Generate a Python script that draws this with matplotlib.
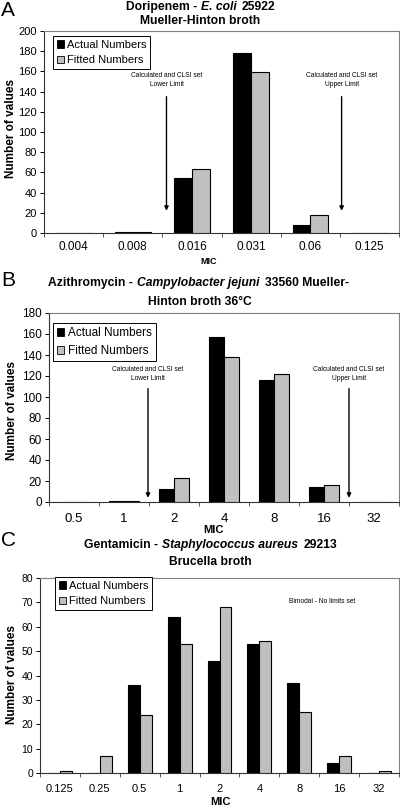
import numpy as np
import matplotlib
matplotlib.use("Agg")
import matplotlib.pyplot as plt
import matplotlib.transforms as mtransforms
from matplotlib.patches import Patch

plt.rcParams['font.family'] = ['Liberation Sans', 'DejaVu Sans']

# ---------------- data ----------------
mic_a = ['0.004', '0.008', '0.016', '0.031', '0.06', '0.125']
actual_a = [0, 1, 54, 178, 8, 0]
fitted_a = [0, 1, 63, 159, 18, 0]

mic_b = ['0.5', '1', '2', '4', '8', '16', '32']
actual_b = [0, 1, 12, 157, 116, 14, 0]
fitted_b = [0, 1, 23, 138, 122, 16, 0]

mic_c = ['0.125', '0.25', '0.5', '1', '2', '4', '8', '16', '32']
actual_c = [0, 0, 36, 64, 46, 53, 37, 4, 0]
fitted_c = [1, 7, 24, 53, 68, 54, 25, 7, 1]

W, H = 400, 807
DPI = 100
fig = plt.figure(figsize=(W / DPI, H / DPI), dpi=DPI)
PX = mtransforms.IdentityTransform()


def ax_px(left, top, right, bottom):
    return fig.add_axes([left / W, (H - bottom) / H, (right - left) / W, (bottom - top) / H])


def mixed_line(xc, y, pieces, size):
    r = fig.canvas.get_renderer()
    items = []
    for s, st in pieces:
        t = fig.text(0, H - y, s, fontsize=size, fontweight='bold', fontstyle=st,
                     ha='left', va='center', transform=PX)
        w = t.get_window_extent(r).width
        items.append((t, w, st))
    sp = 0.33 * size * DPI / 72
    total = sum(w for _, w, _ in items) + sp * (len(items) - 1)
    x = xc - total / 2
    for t, w, st in items:
        t.set_x(x)
        x += w + sp + (1.5 if st == 'italic' else 0)


def setup(ax, cats, actual, fitted, ymax, ystep, xfs, yfs, xpad):
    n = len(cats)
    x = np.arange(n)
    ax.bar(x - 0.15, actual, 0.3, color='black', edgecolor='black', linewidth=0.8, zorder=3)
    ax.bar(x + 0.15, fitted, 0.3, color='#c0c0c0', edgecolor='black', linewidth=0.8, zorder=3)
    ax.set_xlim(-0.5, n - 0.5)
    ax.set_ylim(0, ymax)
    ax.set_yticks(np.arange(0, ymax + 1, ystep))
    ax.tick_params(axis='y', labelsize=yfs, length=3, width=0.7, pad=2)
    ax.set_xticks(np.arange(n + 1) - 0.5)
    ax.set_xticklabels([])
    ax.tick_params(axis='x', which='major', length=3, width=0.7, color='#555555')
    ax.set_xticks(x, cats, minor=True)
    ax.tick_params(axis='x', which='minor', length=0, labelsize=xfs, pad=xpad)
    for s in ['left', 'bottom']:
        ax.spines[s].set_color('#333333')
        ax.spines[s].set_linewidth(0.8)
    for s in ['top', 'right']:
        ax.spines[s].set_color('#808080')
        ax.spines[s].set_linewidth(0.8)
    ax.set_facecolor('white')


def legend(ax, anchor, fs):
    handles = [Patch(facecolor='black', edgecolor='black', linewidth=0.6),
               Patch(facecolor='#c0c0c0', edgecolor='black', linewidth=0.6)]
    lg = ax.legend(handles, ['Actual Numbers', 'Fitted Numbers'], loc='upper left',
                   bbox_to_anchor=anchor, bbox_transform=PX, fontsize=fs,
                   handlelength=0.6, handleheight=0.6, handletextpad=0.3,
                   labelspacing=0.5, borderpad=0.35, fancybox=False, framealpha=1,
                   borderaxespad=0)
    lg.get_frame().set_edgecolor('black')
    lg.get_frame().set_linewidth(0.7)
    lg.set_zorder(5)


def limit(ax, x, top, bottom, ytext, label):
    ax.annotate('', xy=(x, bottom), xytext=(x, top),
                arrowprops=dict(arrowstyle='-|>', lw=1.0, color='black', mutation_scale=6,
                                shrinkA=0, shrinkB=0))
    ax.text(x, ytext, 'Calculated and CLSI set\n' + label, ha='center', va='center',
            fontsize=4.8, linespacing=1.35)


# ---------------- Panel A ----------------
axA = ax_px(44, 31, 399, 233)
setup(axA, mic_a, actual_a, fitted_a, 200, 20, 8.5, 8.0, 6)
legend(axA, (53, H - 36), 8.0)
limit(axA, 1.57, 135, 22, 151.5, 'Lower Limit')
limit(axA, 4.53, 135, 22, 151.5, 'Upper Limit')
fig.text(1, H - 1, 'A', fontsize=15, ha='left', va='top', transform=PX)
mixed_line(200, 7, [('Doripenem -', 'normal'), ('E. coli', 'italic'), ('25922', 'normal')], 8.7)
mixed_line(200, 21, [('Mueller-Hinton broth', 'normal')], 8.7)
fig.text(11, H - 129, 'Number of values', rotation=90, fontsize=8.5, fontweight='bold',
         ha='center', va='center', transform=PX)
fig.text(209, H - 261, 'MIC', fontsize=6.5, fontweight='bold', ha='center', va='center', transform=PX)

# ---------------- Panel B ----------------
axB = ax_px(49, 313, 399, 502)
setup(axB, mic_b, actual_b, fitted_b, 180, 20, 9.5, 8.5, 8)
legend(axB, (53, H - 323), 8.5)
limit(axB, 1.48, 108, 4, 122, 'Lower Limit')
limit(axB, 5.5, 108, 4, 122, 'Upper Limit')
fig.text(1, H - 271, 'B', fontsize=15, ha='left', va='top', transform=PX)
mixed_line(198, 283, [('Azithromycin -', 'normal'), ('Campylobacter jejuni', 'italic'),
                      ('33560 Mueller-', 'normal')], 8.7)
mixed_line(200, 302, [('Hinton broth 36°C', 'normal')], 8.7)
fig.text(12, H - 410, 'Number of values', rotation=90, fontsize=8.5, fontweight='bold',
         ha='center', va='center', transform=PX)
fig.text(213, H - 530, 'MIC', fontsize=8, fontweight='bold', ha='center', va='center', transform=PX)

# ---------------- Panel C ----------------
axC = ax_px(40, 578, 399, 773)
setup(axC, mic_c, actual_c, fitted_c, 80, 10, 8.0, 7.5, 8)
legend(axC, (55, H - 577), 8.0)
axC.text(6.57, 70.5, 'Bimodal - No limits set', ha='center', va='center', fontsize=4.8)
fig.text(1, H - 531, 'C', fontsize=15, ha='left', va='top', transform=PX)
mixed_line(210, 545, [('Gentamicin -', 'normal'), ('Staphylococcus aureus', 'italic'),
                      ('29213', 'normal')], 8.7)
mixed_line(210, 562, [('Brucella broth', 'normal')], 8.7)
fig.text(12, H - 675, 'Number of values', rotation=90, fontsize=8.5, fontweight='bold',
         ha='center', va='center', transform=PX)
fig.text(220, H - 802, 'MIC', fontsize=8, fontweight='bold', ha='center', va='center', transform=PX)

fig.savefig('out.png', dpi=DPI, facecolor='white')
